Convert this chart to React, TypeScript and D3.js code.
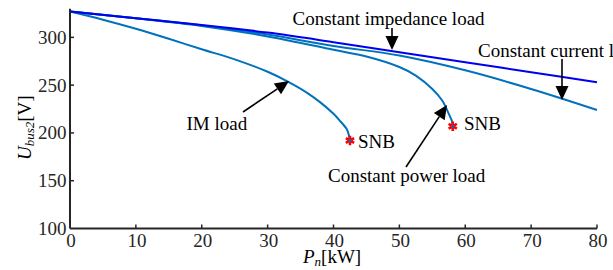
import React from 'react';
import * as d3 from 'd3';

// Tick values
const xTicks = [0, 10, 20, 30, 40, 50, 60, 70, 80];
const yTicks = [100, 150, 200, 250, 300];

// Series (P in kW, U in V)
const impP = [0, 10, 20, 30, 40, 50, 60, 70, 80];
const impU = [327, 320, 313, 305, 295, 284.5, 274, 263.5, 253];
const curP = [0, 10, 20, 30, 40, 50, 60, 70, 80];
const curU = [327, 320, 312.5, 303, 291, 281, 265.5, 246, 224];
const powP = [0, 10, 20, 30, 40, 45, 50, 52.5, 55, 56.5, 57.5, 58, 58.1];
const powU = [327, 320, 312, 301, 287, 280, 269, 260, 246, 234, 220, 212, 207];
const imP = [0, 5, 10, 15, 20, 25, 30, 33, 36, 38, 40, 41, 42, 42.3, 42.5];
const imU = [327, 318.5, 309, 298.5, 287.5, 277, 264, 254, 242, 232, 220, 212.5, 204, 198.5, 192];
const snbP = [42.5, 58.1];
const snbU = [192, 207];

const FONT = "'Liberation Serif', 'Times New Roman', 'DejaVu Serif', serif";
const W = 613;
const H = 270;
const AXIS = '#262626';
const MBLUE = '#0072BD';

const x = d3.scaleLinear().domain([0, 80]).range([70, 597]);
const y = d3.scaleLinear().domain([100, 330]).range([228.5, 8.7]);

const line = d3
  .line<[number, number]>()
  .x((d) => x(d[0]))
  .y((d) => y(d[1]))
  .curve(d3.curveCatmullRom.alpha(0.5));

const zip = (a: number[], b: number[]) => a.map((v, i) => [v, b[i]] as [number, number]);

function Arrow({ x1, y1, x2, y2 }: { x1: number; y1: number; x2: number; y2: number }) {
  const L = 14;
  const hw = 6.5;
  const dx = x2 - x1;
  const dy = y2 - y1;
  const len = Math.hypot(dx, dy);
  const ux = dx / len;
  const uy = dy / len;
  const bx = x2 - ux * L;
  const by = y2 - uy * L;
  const px = -uy;
  const py = ux;
  const pts = `${x2},${y2} ${bx + px * hw},${by + py * hw} ${bx - px * hw},${by - py * hw}`;
  return (
    <g>
      <line x1={x1} y1={y1} x2={bx} y2={by} stroke="#000" strokeWidth={1.6} />
      <polygon points={pts} fill="#000" />
    </g>
  );
}

const ts: React.CSSProperties = { fontFamily: FONT };

export default function App() {
  const star = d3.symbol(d3.symbolAsterisk, 64)() as string;
  return (
    <div style={{ position: 'absolute', left: 0, top: 0 }}>
      <svg width={W} height={H} style={{ display: 'block', background: '#fff', fontFamily: FONT }}>
        {/* curves */}
        <path d={line(zip(imP, imU)) || ''} fill="none" stroke={MBLUE} strokeWidth={2} />
        <path d={line(zip(powP, powU)) || ''} fill="none" stroke={MBLUE} strokeWidth={2} />
        <path d={line(zip(curP, curU)) || ''} fill="none" stroke={MBLUE} strokeWidth={2} />
        <path d={line(zip(impP, impU)) || ''} fill="none" stroke="#0000EE" strokeWidth={2} />

        {/* SNB markers */}
        {snbP.map((p, i) => (
          <g key={i} transform={`translate(${x(p)},${y(snbU[i])})`}>
            <path d={star} fill="none" stroke="#FF0000" strokeWidth={2.6} />
            <circle r={1.6} fill={MBLUE} />
          </g>
        ))}

        {/* axes */}
        <line x1={x(0)} y1={y(100)} x2={x(80)} y2={y(100)} stroke={AXIS} strokeWidth={2} />
        <line x1={x(0)} y1={y(100)} x2={x(0)} y2={y(330)} stroke={AXIS} strokeWidth={2} />
        {xTicks.slice(1).map((t) => (
          <line key={'xt' + t} x1={x(t)} x2={x(t)} y1={y(100)} y2={y(100) - 4} stroke={AXIS} strokeWidth={1.5} />
        ))}
        {yTicks.slice(1).map((t) => (
          <line key={'yt' + t} x1={x(0)} x2={x(0) + 4} y1={y(t)} y2={y(t)} stroke={AXIS} strokeWidth={1.5} />
        ))}
        {xTicks.map((t) => (
          <text key={'xl' + t} x={x(t) + 1} y={246.5} fontSize={19} textAnchor="middle" fill="#262626" style={ts}>
            {t}
          </text>
        ))}
        {yTicks.map((t) => (
          <text key={'yl' + t} x={66.5} y={y(t) + 6.5} fontSize={19} textAnchor="end" fill="#262626" style={ts}>
            {t}
          </text>
        ))}

        {/* axis titles */}
        <text x={303} y={263} fontSize={19} fill="#000" style={ts}>
          <tspan fontStyle="italic">P</tspan>
          <tspan fontStyle="italic" fontSize={13} dy={3}>n</tspan>
          <tspan dy={-3}>[kW]</tspan>
        </text>
        <text transform="translate(31,160) rotate(-90)" fontSize={19} fill="#000" style={ts}>
          <tspan fontStyle="italic">U</tspan>
          <tspan fontStyle="italic" fontSize={13} dy={3}>bus2</tspan>
          <tspan dy={-3}>[V]</tspan>
        </text>

        {/* annotations */}
        <text x={292.5} y={25} fontSize={19} style={ts}>Constant impedance load</text>
        <Arrow x1={392} y1={28} x2={392} y2={50} />
        <text x={478} y={56.5} fontSize={19} style={ts}>Constant current load</text>
        <Arrow x1={562} y1={59} x2={562} y2={100} />
        <text x={186.5} y={130} fontSize={19} style={ts}>IM load</text>
        <Arrow x1={243} y1={112} x2={289} y2={81} />
        <text x={358} y={148} fontSize={19} style={ts}>SNB</text>
        <text x={464} y={130} fontSize={19} style={ts}>SNB</text>
        <text x={328} y={181.5} fontSize={19} style={ts}>Constant power load</text>
        <Arrow x1={406} y1={167} x2={447} y2={105} />
      </svg>
    </div>
  );
}
